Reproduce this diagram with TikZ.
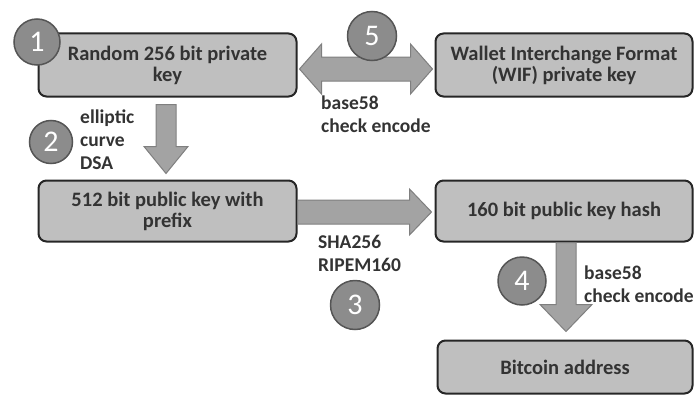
\documentclass[tikz,border=0pt]{standalone}
\usepackage{fontspec}
\setmainfont{Carlito}
\usetikzlibrary{calc}
\definecolor{boxfill}{HTML}{BFBFBF}
\definecolor{boxline}{HTML}{262626}
\definecolor{txt}{HTML}{333333}
\definecolor{arrfill}{HTML}{A3A3A3}
\definecolor{arrline}{HTML}{7F7F7F}
\definecolor{circfill}{HTML}{8C8C8C}
\definecolor{circline}{HTML}{555555}
\tikzset{
  stepbox/.style={draw=boxline, fill=boxfill, line width=2pt, rounded corners=8pt,
    text=txt, font=\bfseries\fontsize{20.5}{21}\selectfont, align=center, inner sep=0pt},
  numcirc/.style={circle, draw=circline, fill=circfill, line width=1.5pt, inner sep=0pt,
    text=white, font=\fontsize{30}{30}\selectfont},
  lbl/.style={text=txt, font=\bfseries\fontsize{19.5}{23}\selectfont, align=left, inner sep=0pt, anchor=west},
  arr/.style={fill=arrfill, draw=arrline, line width=1pt, line join=miter}
}
% vertical down arrow: start, end, shaft half, head half, head length
\newcommand\vblockarrow[5]{%
  \filldraw[arr] let \p1=(#1), \p2=(#2) in
    (\x1-#3pt,\y1) -- (\x1+#3pt,\y1) -- (\x1+#3pt,\y2+#5pt) -- (\x1+#4pt,\y2+#5pt) --
    (\x1,\y2) -- (\x1-#4pt,\y2+#5pt) -- (\x1-#3pt,\y2+#5pt) -- cycle;}
% horizontal right arrow
\newcommand\hblockarrow[5]{%
  \filldraw[arr] let \p1=(#1), \p2=(#2) in
    (\x1,\y1+#3pt) -- (\x2-#5pt,\y1+#3pt) -- (\x2-#5pt,\y1+#4pt) -- (\x2,\y1) --
    (\x2-#5pt,\y1-#4pt) -- (\x2-#5pt,\y1-#3pt) -- (\x1,\y1-#3pt) -- cycle;}
% horizontal double arrow
\newcommand\dblockarrow[5]{%
  \filldraw[arr] let \p1=(#1), \p2=(#2) in
    (\x1,\y1) -- (\x1+#5pt,\y1+#4pt) -- (\x1+#5pt,\y1+#3pt) -- (\x2-#5pt,\y1+#3pt) --
    (\x2-#5pt,\y1+#4pt) -- (\x2,\y1) -- (\x2-#5pt,\y1-#4pt) -- (\x2-#5pt,\y1-#3pt) --
    (\x1+#5pt,\y1-#3pt) -- (\x1+#5pt,\y1-#4pt) -- cycle;}
\begin{document}
\begin{tikzpicture}[x=1pt,y=-1pt]
\useasboundingbox (0,0) rectangle (700,396);
% boxes
\node[stepbox, minimum width=258pt, minimum height=63pt] (k1) at (167.5,65) {Random 256 bit private\\key};
\node[stepbox, minimum width=257pt, minimum height=63pt] (wif) at (564,65) {Wallet Interchange Format\\(WIF) private key};
\node[stepbox, minimum width=258pt, minimum height=61pt] (pub) at (167.5,211) {512 bit public key with\\prefix};
\node[stepbox, minimum width=257pt, minimum height=61pt] (hash) at (564,211) {160 bit public key hash};
\node[stepbox, minimum width=255pt, minimum height=53pt] (addr) at (565,367) {Bitcoin address};
% arrow anchor points
\coordinate (a2s) at ($(k1.south)+(-1.5,7)$);
\coordinate (a2e) at ($(pub.north)+(-1.5,-6)$);
\coordinate (a3s) at ($(pub.east)+(0,1)$);
\coordinate (a3e) at ($(hash.west)+(-3,1)$);
\coordinate (a4s) at ($(hash.south)+(2,0)$);
\coordinate (a4e) at ($(addr.north)+(1,-8)$);
\coordinate (a5s) at ($(k1.east)+(2,4)$);
\coordinate (a5e) at ($(wif.west)+(-2,4)$);
\vblockarrow{a2s}{a2e}{10}{22}{27}
\hblockarrow{a3s}{a3e}{12}{23}{22}
\vblockarrow{a4s}{a4e}{10}{26}{27}
\dblockarrow{a5s}{a5e}{12}{25}{22}
% labels
\node[lbl] (l2) at (80,140) {elliptic\\curve\\DSA};
\node[lbl] (l5) at (321,114) {base58\\check encode};
\node[lbl] (l3) at (318,253) {SHA256\\RIPEM160};
\node[lbl] (l4) at (584,284) {base58\\check encode};
% number circles
\node[numcirc, minimum size=46pt] (c1) at (37,42) {1};
\node[numcirc, minimum size=43pt] (c2) at (51,142) {2};
\node[numcirc, minimum size=49pt] (c5) at (372,36) {5};
\node[numcirc, minimum size=49pt] (c3) at (355,305) {3};
\node[numcirc, minimum size=48pt] (c4) at (522,281) {4};
\end{tikzpicture}
\end{document}
